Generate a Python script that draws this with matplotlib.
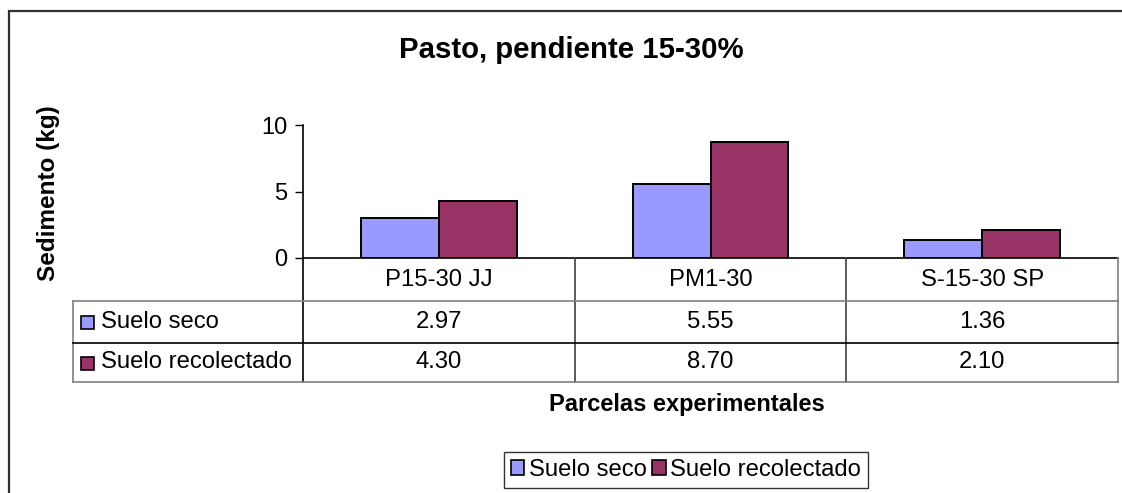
import matplotlib
matplotlib.use('Agg')
import matplotlib.pyplot as plt
from matplotlib.lines import Line2D
from matplotlib.patches import Rectangle
from matplotlib.transforms import blended_transform_factory

plt.rcParams['font.family'] = ['Liberation Sans', 'DejaVu Sans']

parcelas = ['P15-30 JJ', 'PM1-30', 'S-15-30 SP']
series = ['Suelo seco', 'Suelo recolectado']
suelo_seco = [2.97, 5.55, 1.36]
suelo_recolectado = [4.30, 8.70, 2.10]
colores = ['#9999FF', '#993366']

W, H = 1122, 493


def fx(px):
    return px / W


def fy(py):
    return 1 - py / H


fig = plt.figure(figsize=(W / 100, H / 100), dpi=100)
ax = fig.add_axes([fx(303), fy(258), fx(1118) - fx(303), fy(125) - fy(258)])

# grouped bars
bw = 0.287
x = range(len(parcelas))
for i, (vals, c) in enumerate(zip([suelo_seco, suelo_recolectado], colores)):
    off = (i - 0.5) * bw
    ax.bar([k + off for k in x], vals, width=bw, color=c, edgecolor='black',
           linewidth=1.4, zorder=3)

ax.set_xlim(-0.5, len(parcelas) - 0.5)
ax.set_ylim(0, 10)
ax.set_yticks([0, 5, 10])
ax.tick_params(axis='y', length=6, width=1, labelsize=17, pad=5)
ax.set_xticks([])
for s in ['top', 'right']:
    ax.spines[s].set_visible(False)
ax.spines['left'].set_linewidth(1.2)
ax.spines['bottom'].set_linewidth(1.2)
ax.spines['left'].set_bounds(0, 10)

# data table under the axis
tr = blended_transform_factory(ax.transData, fig.transFigure)
gray = '#808080'
rows_y = [258, 301, 343, 382]
edges = [-0.5 + k for k in range(len(parcelas) + 1)]

# vertical lines between plots
for e in edges[1:-1]:
    fig.add_artist(Line2D([e, e], [fy(258), fy(382)], transform=tr, color='#404040', lw=1.2))
fig.add_artist(Line2D([edges[-1], edges[-1]], [fy(258), fy(382)], transform=tr, color=gray, lw=1.2))
# axis line continued down through the table
fig.add_artist(Line2D([fx(303), fx(303)], [fy(258), fy(382)], transform=fig.transFigure, color='black', lw=1.2))
# left border of row labels
fig.add_artist(Line2D([fx(73), fx(73)], [fy(301), fy(382)], transform=fig.transFigure, color=gray, lw=1.2))
# horizontal lines
fig.add_artist(Line2D([fx(73), fx(1118)], [fy(301), fy(301)], transform=fig.transFigure, color=gray, lw=1.2))
fig.add_artist(Line2D([fx(73), fx(1118)], [fy(343), fy(343)], transform=fig.transFigure, color='black', lw=1.2))
fig.add_artist(Line2D([fx(73), fx(1118)], [fy(382), fy(382)], transform=fig.transFigure, color=gray, lw=1.2))

fs = 17.2
for k, name in enumerate(parcelas):
    fig.text(k, fy((rows_y[0] + rows_y[1]) / 2), name, transform=tr,
             ha='center', va='center', fontsize=fs)
    for r, vals in enumerate([suelo_seco, suelo_recolectado]):
        fig.text(k, fy((rows_y[r + 1] + rows_y[r + 2]) / 2), f'{vals[k]:.2f}',
                 transform=tr, ha='center', va='center', fontsize=fs)

for r, (name, c) in enumerate(zip(series, colores)):
    yc = (rows_y[r + 1] + rows_y[r + 2]) / 2
    fig.add_artist(Rectangle((fx(81), fy(yc + 7)), fx(13), 13 / H, transform=fig.transFigure,
                             facecolor=c, edgecolor='black', lw=1.2))
    fig.text(fx(101), fy(yc), name, ha='left', va='center', fontsize=fs)

# titles
fig.text(fx(571), fy(50), 'Pasto, pendiente 15-30%', ha='center', va='center',
         fontsize=21.2, fontweight='bold')
fig.text(fx(49), fy(193), 'Sedimento (kg)', ha='center', va='center', rotation=90,
         fontsize=17.5, fontweight='bold')
fig.text(fx(687), fy(404), 'Parcelas experimentales', ha='center', va='center',
         fontsize=17, fontweight='bold')

# legend
handles = [Rectangle((0, 0), 1, 1, facecolor=c, edgecolor='black', lw=1.2) for c in colores]
leg = fig.legend(handles, series, loc='center', bbox_to_anchor=(fx(686), fy(470)),
                 ncol=2, fontsize=fs, frameon=True, fancybox=False, edgecolor='black',
                 handlelength=0.55, handleheight=0.55, handletextpad=0.2,
                 columnspacing=0.25, borderpad=0.3, borderaxespad=0)
leg.get_frame().set_linewidth(1.0)

# chart border
fig.add_artist(Rectangle((fx(9), -0.05), 1.1, fy(11) + 0.05, transform=fig.transFigure,
                         facecolor='none', edgecolor='#303030', lw=1.6))

fig.savefig('out.png', dpi=100)
